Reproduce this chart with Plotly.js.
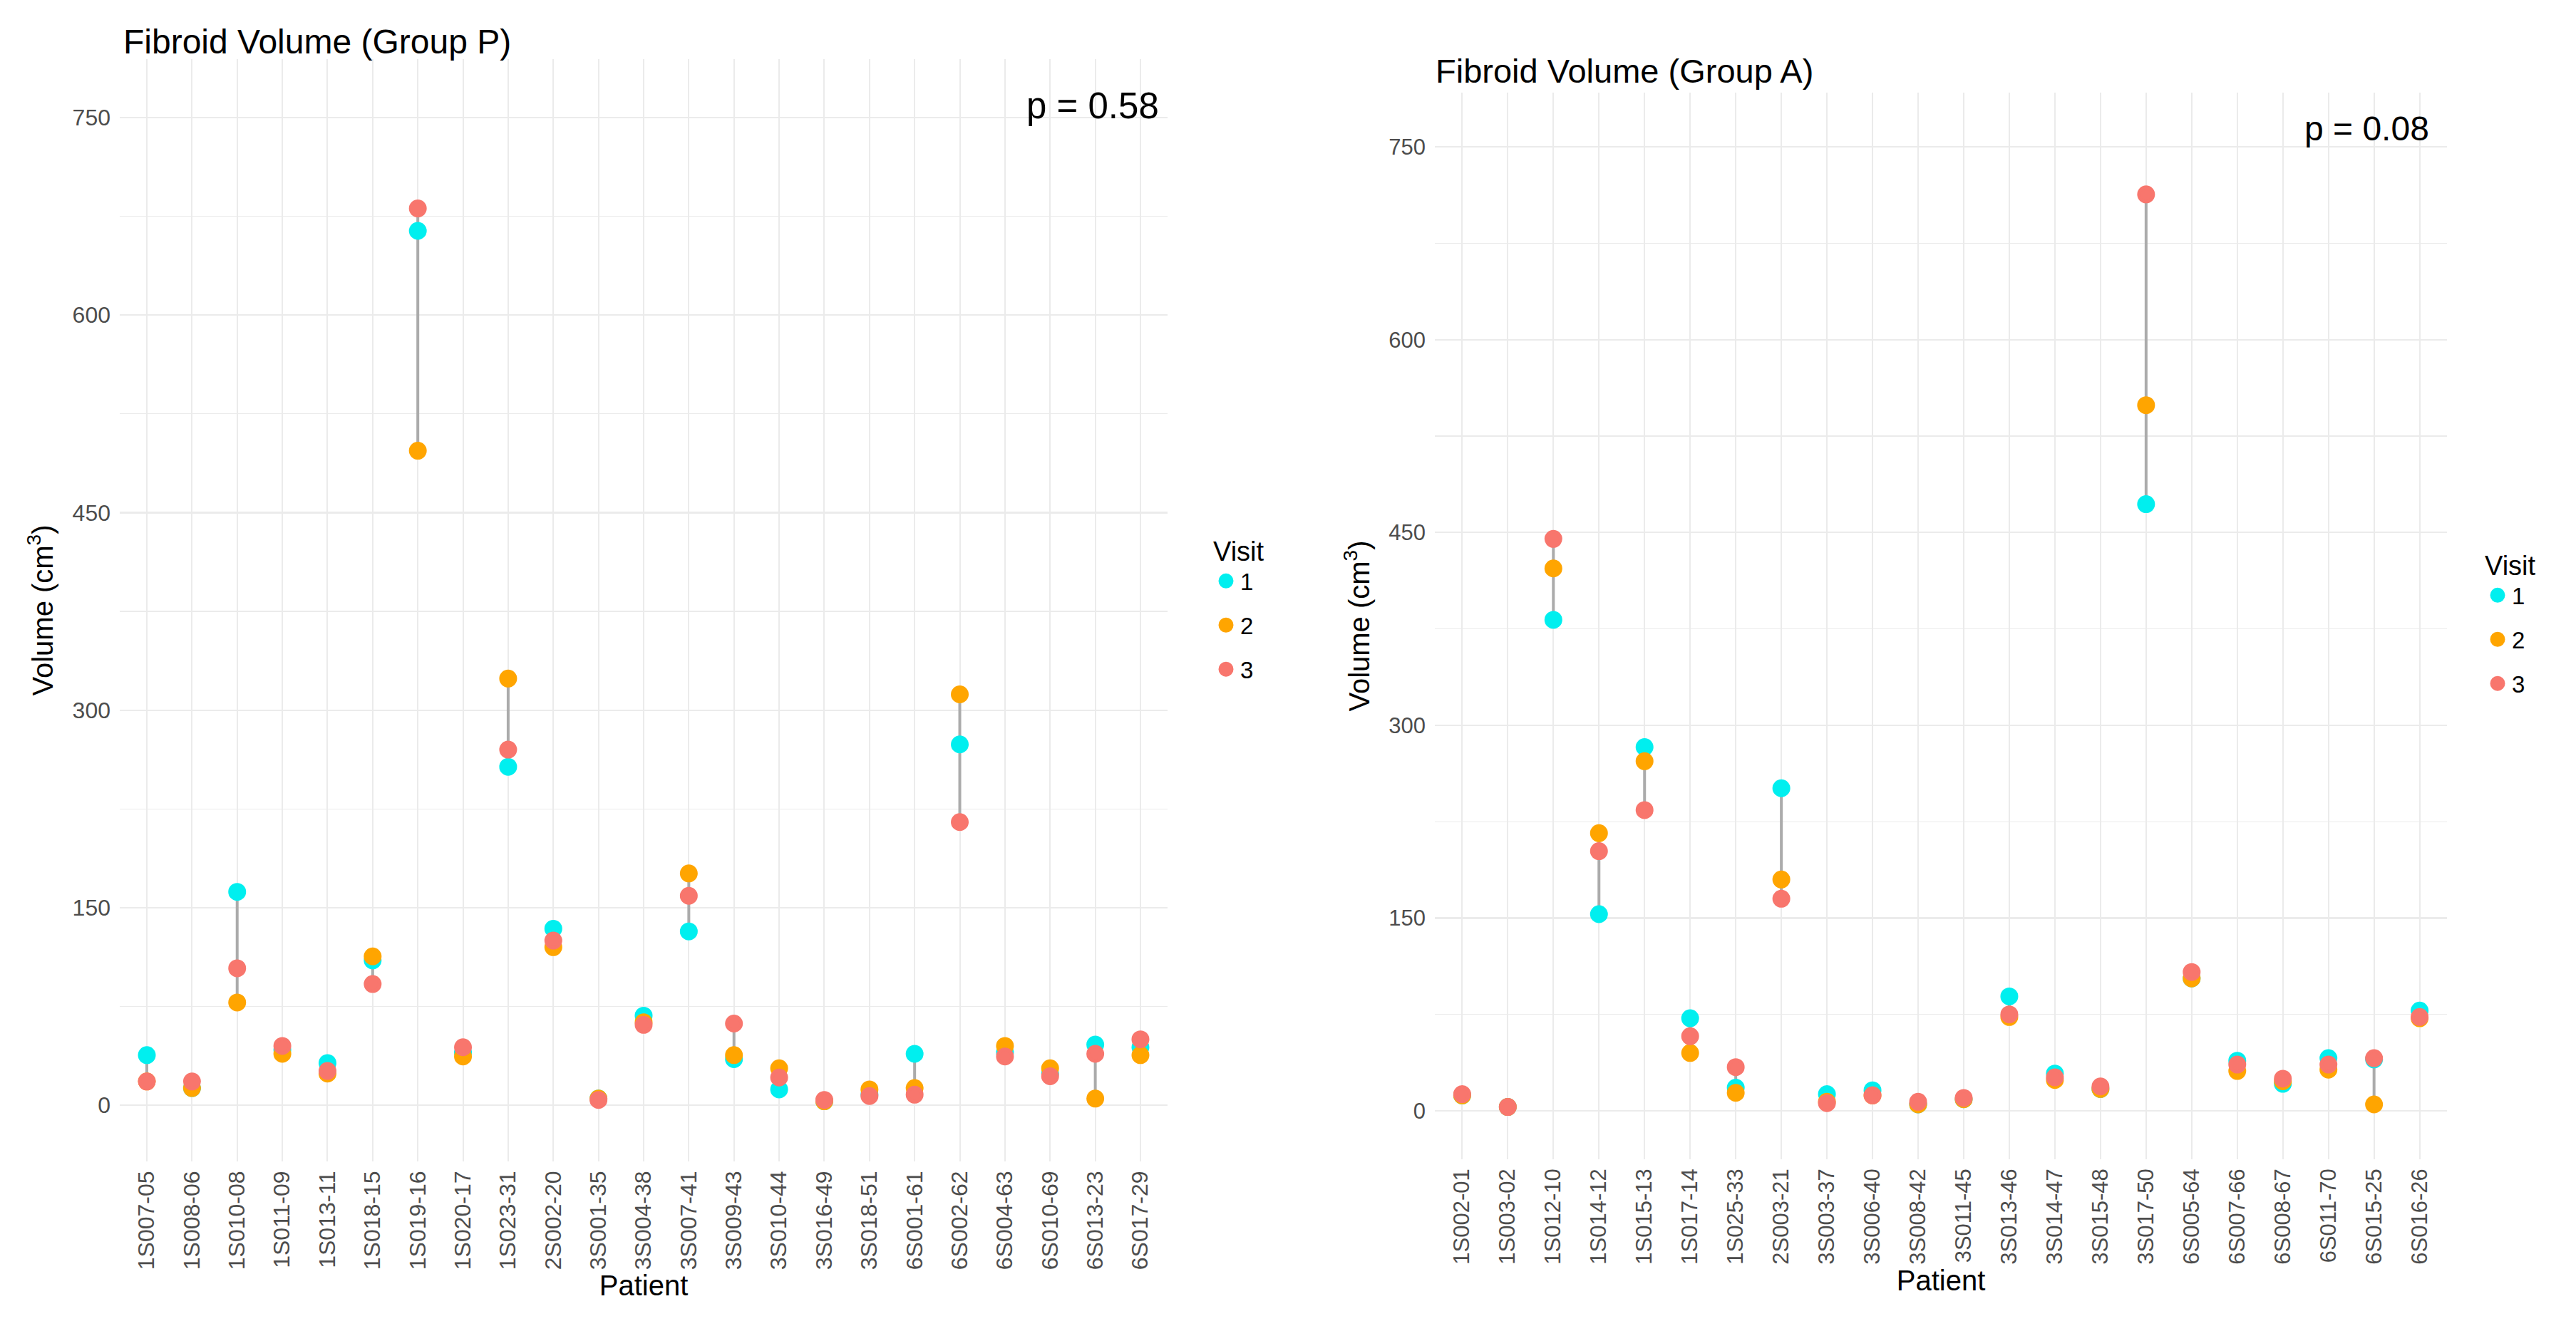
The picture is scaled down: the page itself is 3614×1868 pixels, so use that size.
<!DOCTYPE html>
<html>
<head>
<meta charset="utf-8">
<script src="https://cdn.plot.ly/plotly-3.0.1.min.js"></script>
<style>
  html, body { margin: 0; padding: 0; background: #ffffff; }
  #chart { width: 3614px; height: 1868px; }
</style>
</head>
<body>
<div id="chart"></div>
<script>
// ---------- Data: Group P ----------
const patientsP = ['1S007-05','1S008-06','1S010-08','1S011-09','1S013-11','1S018-15','1S019-16','1S020-17','1S023-31','2S002-20','3S001-35','3S004-38','3S007-41','3S009-43','3S010-44','3S016-49','3S018-51','6S001-61','6S002-62','6S004-63','6S010-69','6S013-23','6S017-29'];
const visit1P = [38, 13, 162, 42, 32, 110, 664, 40, 257, 134, 5, 68, 132, 35, 12, 3, 8, 39, 274, 40, 24, 46, 44];
const visit2P = [18, 13, 78, 39, 24, 113, 497, 37, 324, 120, 5, 63, 176, 38, 28, 3, 12, 13, 312, 45, 28, 5, 38];
const visit3P = [18, 18, 104, 45, 26, 92, 681, 44, 270, 125, 4, 61, 159, 62, 21, 4, 7, 8, 215, 37, 22, 39, 50];
const pTextP = 'p = 0.58';

// ---------- Data: Group A ----------
const patientsA = ['1S002-01','1S003-02','1S012-10','1S014-12','1S015-13','1S017-14','1S025-33','2S003-21','3S003-37','3S006-40','3S008-42','3S011-45','3S013-46','3S014-47','3S015-48','3S017-50','6S005-64','6S007-66','6S008-67','6S011-70','6S015-25','6S016-26'];
const visit1A = [12, 3, 382, 153, 283, 72, 18, 251, 13, 16, 5, 9, 89, 29, 17, 472, 103, 39, 21, 41, 40, 78];
const visit2A = [12, 3, 422, 216, 272, 45, 14, 180, 7, 12, 5, 9, 73, 24, 17, 549, 103, 31, 23, 32, 5, 72];
const visit3A = [13, 3, 445, 202, 234, 58, 34, 165, 6, 12, 7, 10, 75, 26, 19, 713, 108, 36, 25, 36, 41, 73];
const pTextA = 'p = 0.08';

const visitNames = ['1', '2', '3'];
const yTicks = [0, 150, 300, 450, 600, 750];

// ---------- Styling ----------
const W = 3614, H = 1868;
const FONT = 'Liberation Sans, Arial, Helvetica, sans-serif';
const colors = ['#00EFEF', '#FFA500', '#F8766D'];
const segColor = '#ABABAB';
const gridColor = '#EBEBEB';
const tickColor = '#4D4D4D';

function px2x(p) { return p / W; }
function px2y(p) { return 1 - p / H; }

function segments(patients, series) {
  const xs = [], ys = [];
  patients.forEach((p, i) => {
    const vals = series.map(s => s[i]);
    xs.push(p, p, null);
    ys.push(Math.min(...vals), Math.max(...vals), null);
  });
  return {xs, ys};
}

const traces = [];
function addPanel(patients, series, xa, ya, leg, tag) {
  const seg = segments(patients, series);
  traces.push({
    type: 'scatter', mode: 'lines', x: seg.xs, y: seg.ys,
    xaxis: xa, yaxis: ya, showlegend: false, hoverinfo: 'skip',
    line: {color: segColor, width: 4}
  });
  series.forEach((s, k) => {
    traces.push({
      type: 'scatter', mode: 'markers', x: patients, y: s,
      xaxis: xa, yaxis: ya, name: visitNames[k], legend: leg,
      legendgroup: tag + k,
      marker: {color: colors[k], size: 20, line: {color: colors[k], width: 5}}
    });
  });
}
addPanel(patientsP, [visit1P, visit2P, visit3P], 'x', 'y', 'legend', 'P');
addPanel(patientsA, [visit1A, visit2A, visit3A], 'x2', 'y2', 'legend2', 'A');

function xAxis(domain, cats, anchor, fs) {
  return {
    domain: domain, anchor: anchor, type: 'category',
    categoryorder: 'array', categoryarray: cats,
    range: [-0.6, cats.length - 0.4],
    showgrid: true, gridcolor: gridColor, gridwidth: 2,
    zeroline: false, showline: false, ticks: '',
    tickangle: -90, ticklabelstandoff: 6,
    tickfont: {family: FONT, size: fs, color: tickColor},
    title: {text: 'Patient', font: {family: FONT, size: 40, color: '#000'}, standoff: 6},
    fixedrange: true
  };
}
function yAxis(domain, range, anchor, fs) {
  return {
    domain: domain, anchor: anchor, range: range,
    tickmode: 'array', tickvals: yTicks,
    showgrid: true, gridcolor: gridColor, gridwidth: 2.2,
    minor: {tickmode: 'array', tickvals: [75, 225, 375, 525, 675], showgrid: true, gridcolor: gridColor, gridwidth: 1.2, ticks: ''},
    zeroline: false, showline: false, ticks: '',
    ticklabelstandoff: 12,
    tickfont: {family: FONT, size: fs, color: tickColor},
    title: {text: 'Volume (cm<sup>3</sup>)', font: {family: FONT, size: 40, color: '#000'}, standoff: 14},
    fixedrange: true
  };
}

const layout = {
  width: W, height: H,
  margin: {l: 0, r: 0, t: 0, b: 0},
  paper_bgcolor: '#ffffff', plot_bgcolor: '#ffffff',
  font: {family: FONT, color: '#000'},
  xaxis: xAxis([px2x(168), px2x(1638)], patientsP, 'y', 32),
  yaxis: yAxis([px2y(1630), px2y(83)], [-42.7, 794.4], 'x', 32),
  xaxis2: xAxis([px2x(2013), px2x(3433)], patientsA, 'y2', 31),
  yaxis2: yAxis([px2y(1627), px2y(130)], [-37.7, 792.2], 'x2', 31),
  legend: {
    x: px2x(1700), xanchor: 'left', y: px2y(738), yanchor: 'top',
    title: {text: 'Visit', font: {family: FONT, size: 38, color: '#000'}},
    font: {family: FONT, size: 33, color: '#000'},
    tracegroupgap: 16, bgcolor: 'rgba(0,0,0,0)', itemsizing: 'trace'
  },
  legend2: {
    x: px2x(3484), xanchor: 'left', y: px2y(758), yanchor: 'top',
    title: {text: 'Visit', font: {family: FONT, size: 38, color: '#000'}},
    font: {family: FONT, size: 33, color: '#000'},
    tracegroupgap: 16, bgcolor: 'rgba(0,0,0,0)', itemsizing: 'trace'
  },
  annotations: [
    {text: 'Fibroid Volume (Group P)', xref: 'paper', yref: 'paper', x: px2x(171), y: px2y(58),
     xanchor: 'left', yanchor: 'middle', showarrow: false, font: {family: FONT, size: 48, color: '#000'}},
    {text: 'Fibroid Volume (Group A)', xref: 'paper', yref: 'paper', x: px2x(2012), y: px2y(100),
     xanchor: 'left', yanchor: 'middle', showarrow: false, font: {family: FONT, size: 47, color: '#000'}},
    {text: pTextP, xref: 'paper', yref: 'paper', x: px2x(1628), y: px2y(148),
     xanchor: 'right', yanchor: 'middle', showarrow: false, font: {family: FONT, size: 51, color: '#000'}},
    {text: pTextA, xref: 'paper', yref: 'paper', x: px2x(3410), y: px2y(180),
     xanchor: 'right', yanchor: 'middle', showarrow: false, font: {family: FONT, size: 48, color: '#000'}}
  ]
};

Plotly.newPlot('chart', traces, layout, {staticPlot: true, displayModeBar: false});
</script>
</body>
</html>
